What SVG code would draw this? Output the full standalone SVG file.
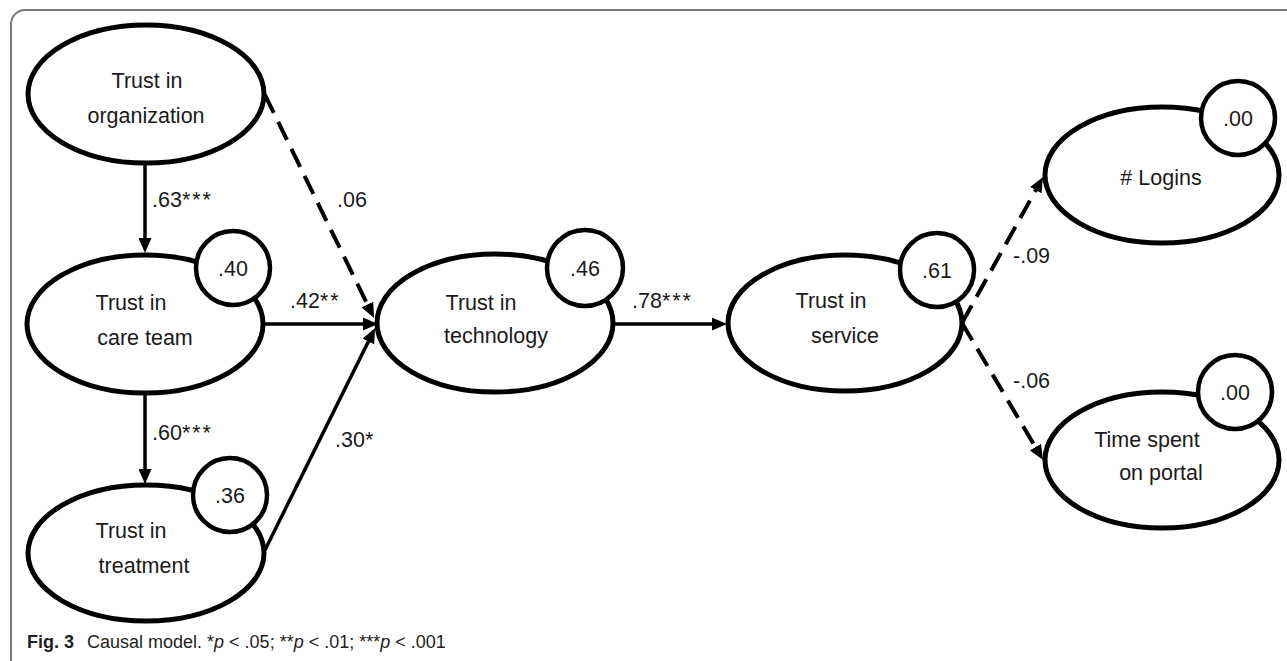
<svg xmlns="http://www.w3.org/2000/svg" width="1287" height="661" viewBox="0 0 1287 661">
  <style>
    .ell { fill: #fff; stroke: #000; stroke-width: 5; }
    .res { fill: #fff; stroke: #000; stroke-width: 4.5; }
    .t { font-family: "Liberation Sans", Arial, sans-serif; font-size: 21.5px; fill: #1a1a1a; }
    .c { text-anchor: middle; }
    .ast { letter-spacing: 2px; }
    .solid { fill: none; stroke: #000; stroke-width: 3.5; marker-end: url(#ah); }
    .dash { fill: none; stroke: #000; stroke-width: 4; stroke-dasharray: 20 10; marker-end: url(#ah); }
    .cap { font-family: "Liberation Sans", Arial, sans-serif; font-size: 18px; fill: #231f20; }
  </style>
  <defs>
    <marker id="ah" markerUnits="userSpaceOnUse" markerWidth="15" markerHeight="13" viewBox="0 0 15 13" refX="7" refY="6.5" orient="auto">
      <path d="M0,0 L15,6.5 L0,13 z" fill="#000"/>
    </marker>
  </defs>
  <rect width="1287" height="661" fill="#fff"/>
  <path d="M11,661 L11,24 A14,14 0 0 1 25,10 L1287,10" fill="none" stroke="#7a7a7a" stroke-width="2"/>

  <g id="node-organization">
    <ellipse class="ell" cx="146" cy="94" rx="118" ry="69"/>
    <text class="t c" x="147" y="88">Trust in</text>
    <text class="t c" x="146" y="123">organization</text>
  </g>
  <g id="node-careteam">
    <ellipse class="ell" cx="145" cy="324" rx="118" ry="69"/>
    <circle class="res" cx="233" cy="268" r="37"/>
    <text class="t c" x="233" y="276">.40</text>
    <text class="t c" x="131" y="310">Trust in</text>
    <text class="t c" x="145" y="345">care team</text>
  </g>
  <g id="node-treatment">
    <ellipse class="ell" cx="146" cy="553" rx="118" ry="68"/>
    <circle class="res" cx="230" cy="495" r="37"/>
    <text class="t c" x="230" y="503">.36</text>
    <text class="t c" x="131" y="538">Trust in</text>
    <text class="t c" x="144" y="573">treatment</text>
  </g>
  <g id="node-technology">
    <ellipse class="ell" cx="495" cy="323" rx="118" ry="69"/>
    <circle class="res" cx="585" cy="268" r="38"/>
    <text class="t c" x="585" y="276">.46</text>
    <text class="t c" x="481" y="310">Trust in</text>
    <text class="t c" x="496" y="343">technology</text>
  </g>
  <g id="node-service">
    <ellipse class="ell" cx="845" cy="323" rx="117" ry="68"/>
    <circle class="res" cx="937" cy="270" r="37"/>
    <text class="t c" x="937" y="278">.61</text>
    <text class="t c" x="831" y="308">Trust in</text>
    <text class="t c" x="845" y="343">service</text>
  </g>
  <g id="node-logins">
    <ellipse class="ell" cx="1162" cy="175" rx="117" ry="68"/>
    <circle class="res" cx="1238" cy="118" r="37"/>
    <text class="t c" x="1238" y="126">.00</text>
    <text class="t c" x="1161" y="185"># Logins</text>
  </g>
  <g id="node-time">
    <ellipse class="ell" cx="1162" cy="460" rx="117" ry="68"/>
    <circle class="res" cx="1235" cy="392" r="37"/>
    <text class="t c" x="1235" y="400">.00</text>
    <text class="t c" x="1147" y="447">Time spent</text>
    <text class="t c" x="1161" y="480">on portal</text>
  </g>

  <g id="connectors">
    <path class="solid" d="M145,163 L145,245"/>
    <path class="solid" d="M145,393 L145,476"/>
    <path class="solid" d="M264,324 L370,324"/>
    <path class="dash" d="M265,95 L370.5,310.8"/>
    <path class="solid" d="M265,550 L371.5,335.2"/>
    <path class="solid" d="M613,324 L719,324"/>
    <path class="dash" d="M962,323 L1039.2,184"/>
    <path class="dash" d="M962,323 L1039,453.1"/>
  </g>

  <g id="edge-labels">
    <text class="t" x="152" y="207">.63<tspan class="ast">***</tspan></text>
    <text class="t" x="337" y="207">.06</text>
    <text class="t" x="290" y="308">.42<tspan class="ast">**</tspan></text>
    <text class="t" x="152" y="440">.60<tspan class="ast">***</tspan></text>
    <text class="t" x="335" y="447">.30<tspan class="ast">*</tspan></text>
    <text class="t" x="632" y="308">.78<tspan class="ast">***</tspan></text>
    <text class="t" x="1013" y="263">-.09</text>
    <text class="t" x="1013" y="388">-.06</text>
  </g>

  <text class="cap" x="27" y="648"><tspan font-weight="bold">Fig. 3</tspan><tspan x="87">Causal model. *<tspan font-style="italic">p</tspan> &lt; .05; **<tspan font-style="italic">p</tspan> &lt; .01; ***<tspan font-style="italic">p</tspan> &lt; .001</tspan></text>
</svg>
